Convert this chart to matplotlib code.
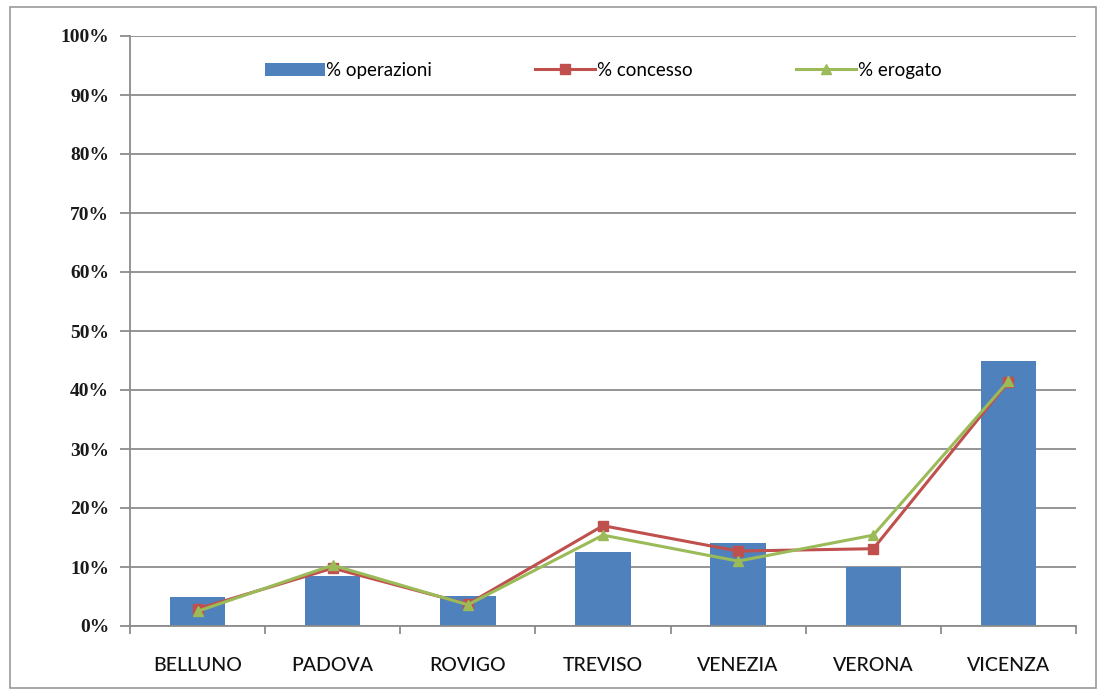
import matplotlib
matplotlib.use("Agg")
import matplotlib.pyplot as plt
from matplotlib.patches import Rectangle
from matplotlib.ticker import MultipleLocator, FuncFormatter

categories = ["BELLUNO", "PADOVA", "ROVIGO", "TREVISO", "VENEZIA", "VERONA", "VICENZA"]
operazioni = [4.9, 8.5, 5.1, 12.5, 14.1, 10.0, 44.9]
concesso = [2.9, 9.8, 3.7, 17.0, 12.7, 13.1, 41.4]
erogato = [2.5, 10.3, 3.6, 15.4, 11.0, 15.4, 41.5]

fig = plt.figure(figsize=(11.06, 6.95), dpi=100)
fig.patches.append(Rectangle((10/1106, 7/695), 1086/1106, 681/695, transform=fig.transFigure,
                             fill=False, edgecolor="#9a9a9a", linewidth=1.2))
ax = fig.add_axes([130/1106, 69/695, 946/1106, 590/695])

x = list(range(len(categories)))
b = ax.bar(x, operazioni, width=0.41, color="#4f81bd", label="% operazioni", zorder=2)
l1, = ax.plot(x, concesso, color="#c0504d", marker="s", markersize=7, linewidth=2.2, label="% concesso", zorder=3)
l2, = ax.plot(x, erogato, color="#9bbb59", marker="^", markersize=7, linewidth=2.2, label="% erogato", zorder=4)

ax.set_xlim(-0.5, len(categories) - 0.5)
ax.set_ylim(0, 100)
ax.yaxis.set_major_locator(MultipleLocator(10))
ax.yaxis.set_major_formatter(FuncFormatter(lambda v, p: f"{int(round(v))}%"))
ax.grid(axis="y", color="#8c8c8c", linewidth=1.3, zorder=0)
ax.set_axisbelow(True)

for s in ["top", "right"]:
    ax.spines[s].set_visible(False)
ax.spines["left"].set_color("#8c8c8c")
ax.spines["bottom"].set_color("#8c8c8c")
ax.spines["left"].set_linewidth(1.3)
ax.spines["bottom"].set_linewidth(1.3)

ax.set_xticks(x)
ax.set_xticklabels(categories, fontsize=14, family="Lato", fontweight="medium", color="#111111")
ax.tick_params(axis="x", length=0, pad=22)
ax.set_xticks([i + 0.5 for i in range(-1, len(categories))], minor=True)
ax.tick_params(axis="x", which="minor", length=6, color="#8c8c8c", width=1.3)
ax.tick_params(axis="y", length=7, color="#8c8c8c", width=1.3, pad=8)
for lab in ax.get_yticklabels():
    lab.set_fontsize(14)
    lab.set_family("Liberation Serif")
    lab.set_fontweight("bold")
    lab.set_color("#1a1a1a")

leg = ax.legend(handles=[b, l1, l2], loc="upper center", bbox_to_anchor=(0.5, 0.985), ncol=3, frameon=False,
                prop={"family": "Lato", "size": 13.5}, columnspacing=5.5,
                handlelength=3.2, handletextpad=0.1)

fig.savefig("out.png", dpi=100)
